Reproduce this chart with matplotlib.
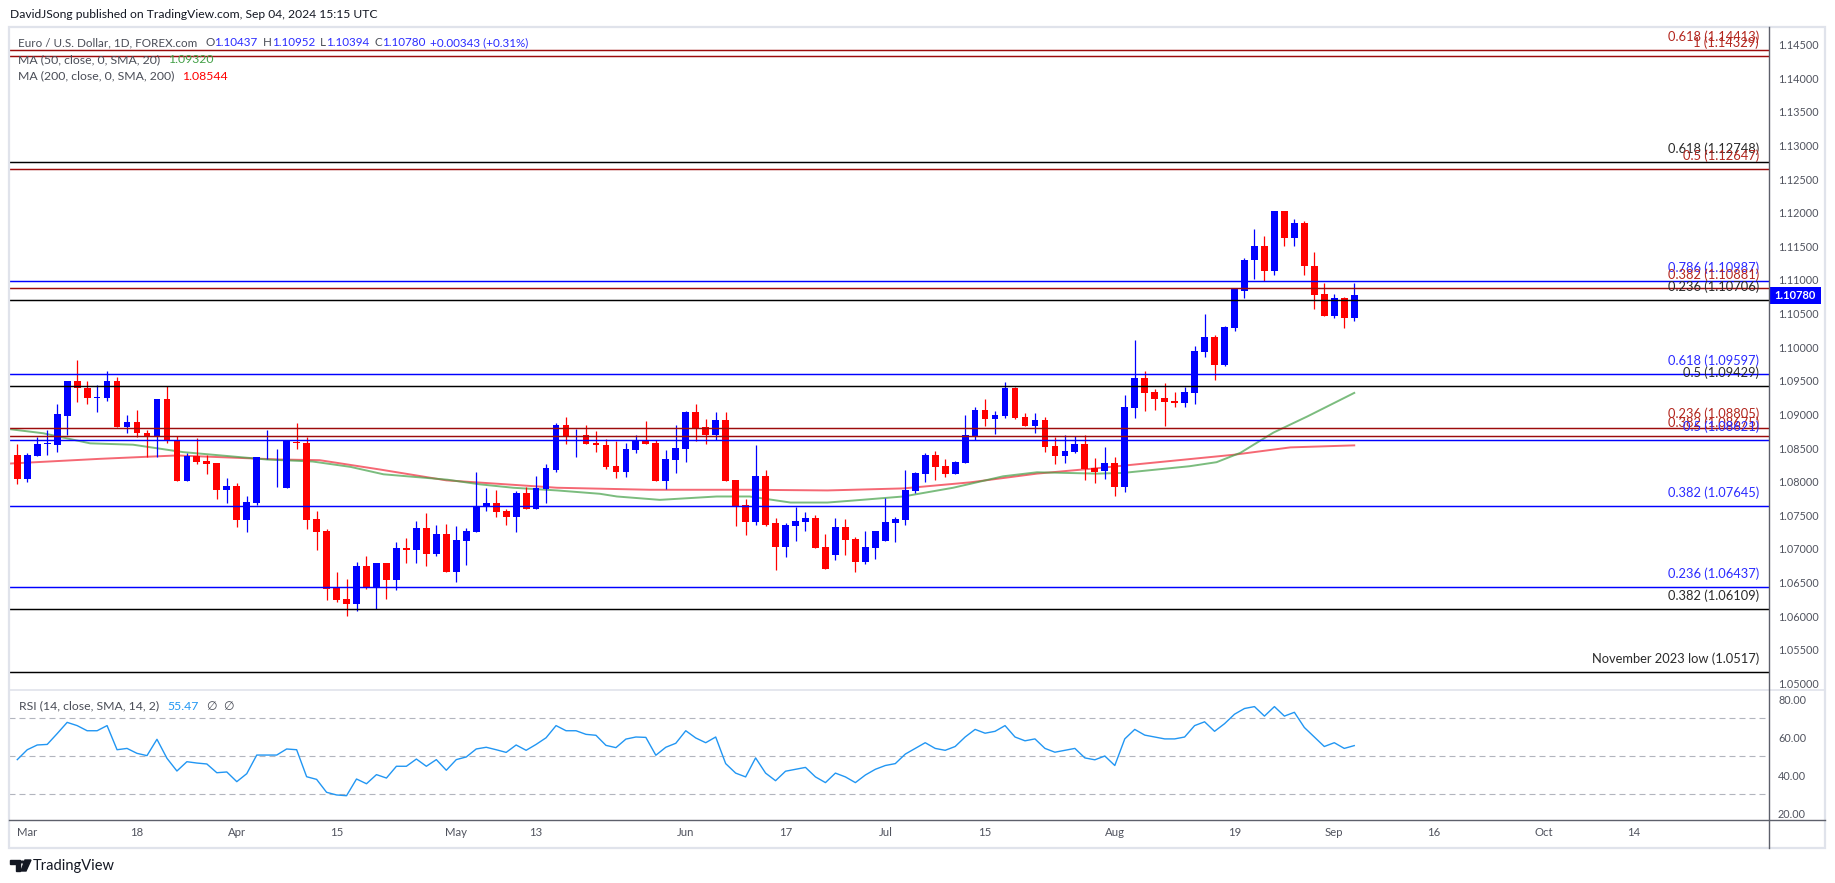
import matplotlib
matplotlib.use("Agg")
import matplotlib.pyplot as plt
from matplotlib.patches import Rectangle, Polygon, Circle
from matplotlib.lines import Line2D
import numpy as np

W, H, DPI = 1835, 883, 100

# daily candles, Feb 29 .. Sep 04 2024 (index 0..134)
opens = [1.0839, 1.0804, 1.0838, 1.0856, 1.0855, 1.0898, 1.0949, 1.0940, 1.0925, 1.0925,
         1.0949, 1.0882, 1.0889, 1.0873, 1.0866, 1.0923, 1.0861, 1.0801, 1.0838, 1.0831,
         1.0828, 1.0787, 1.0793, 1.0743, 1.0769, 1.0836, 1.0836, 1.0790, 1.0859, 1.0858,
         1.0744, 1.0726, 1.0642, 1.0625, 1.0618, 1.0674, 1.0644, 1.0679, 1.0654, 1.0702,
         1.0698, 1.0731, 1.0692, 1.0722, 1.0666, 1.0712, 1.0725, 1.0762, 1.0769, 1.0756,
         1.0747, 1.0783, 1.0759, 1.0789, 1.0818, 1.0885, 1.0867, 1.0870, 1.0857, 1.0855,
         1.0823, 1.0814, 1.0847, 1.0860, 1.0857, 1.0801, 1.0832, 1.0849, 1.0904, 1.0881,
         1.0869, 1.0891, 1.0802, 1.0766, 1.0740, 1.0809, 1.0738, 1.0703, 1.0734, 1.0740,
         1.0746, 1.0703, 1.0691, 1.0733, 1.0715, 1.0680, 1.0702, 1.0712, 1.0739, 1.0743,
         1.0786, 1.0812, 1.0840, 1.0824, 1.0812, 1.0828, 1.0867, 1.0907, 1.0893, 1.0898,
         1.0939, 1.0896, 1.0883, 1.0892, 1.0853, 1.0838, 1.0844, 1.0856, 1.0821, 1.0816,
         1.0828, 1.0792, 1.0909, 1.0954, 1.0933, 1.0924, 1.0920, 1.0917, 1.0932, 1.0993,
         1.1015, 1.0973, 1.1028, 1.1084, 1.1129, 1.1151, 1.1113, 1.1202, 1.1162, 1.1185,
         1.1121, 1.1079, 1.1047, 1.1073, 1.10437]
highs = [1.0856, 1.0843, 1.0866, 1.0877, 1.0916, 1.0950, 1.0981, 1.0949, 1.0944, 1.0965,
         1.0956, 1.0899, 1.0907, 1.0877, 1.0923, 1.0943, 1.0868, 1.0843, 1.0865, 1.0840,
         1.0828, 1.0806, 1.0798, 1.0779, 1.0837, 1.0877, 1.0848, 1.0862, 1.0887, 1.0867,
         1.0757, 1.0730, 1.0665, 1.0655, 1.0680, 1.0690, 1.0679, 1.0679, 1.0711, 1.0716,
         1.0741, 1.0753, 1.0735, 1.0737, 1.0734, 1.0731, 1.0814, 1.0791, 1.0788, 1.0759,
         1.0786, 1.0792, 1.0808, 1.0827, 1.0887, 1.0896, 1.0879, 1.0885, 1.0876, 1.0864,
         1.0861, 1.0858, 1.0869, 1.0890, 1.0862, 1.0847, 1.0884, 1.0905, 1.0916, 1.0893,
         1.0903, 1.0904, 1.0802, 1.0774, 1.0854, 1.0817, 1.0746, 1.0738, 1.0762, 1.0755,
         1.0750, 1.0722, 1.0746, 1.0745, 1.0718, 1.0727, 1.0726, 1.0776, 1.0748, 1.0818,
         1.0815, 1.0843, 1.0846, 1.0834, 1.0831, 1.0899, 1.0911, 1.0923, 1.0905, 1.0948,
         1.0941, 1.0902, 1.0902, 1.0896, 1.0867, 1.0869, 1.0868, 1.0869, 1.0835, 1.0852,
         1.0837, 1.0929, 1.1010, 1.0964, 1.0938, 1.0947, 1.0933, 1.0941, 1.1001, 1.1049,
         1.1018, 1.1031, 1.1087, 1.1132, 1.1175, 1.1166, 1.1202, 1.1203, 1.1191, 1.1187,
         1.1141, 1.1096, 1.1079, 1.1074, 1.10952]
lows = [1.0796, 1.0799, 1.0838, 1.0840, 1.0844, 1.0869, 1.0919, 1.0915, 1.0903, 1.0920,
        1.0882, 1.0873, 1.0867, 1.0836, 1.0837, 1.0858, 1.0801, 1.0801, 1.0826, 1.0812,
        1.0775, 1.0769, 1.0732, 1.0725, 1.0765, 1.0834, 1.0792, 1.0790, 1.0848, 1.0729,
        1.0699, 1.0624, 1.0621, 1.0601, 1.0608, 1.0641, 1.0611, 1.0625, 1.0639, 1.0679,
        1.0679, 1.0675, 1.0690, 1.0666, 1.0651, 1.0676, 1.0725, 1.0756, 1.0748, 1.0735,
        1.0725, 1.0759, 1.0759, 1.0768, 1.0814, 1.0856, 1.0837, 1.0856, 1.0844, 1.0819,
        1.0805, 1.0807, 1.0843, 1.0856, 1.0801, 1.0789, 1.0813, 1.0829, 1.0860, 1.0856,
        1.0862, 1.0801, 1.0734, 1.0721, 1.0736, 1.0734, 1.0669, 1.0688, 1.0712, 1.0727,
        1.0702, 1.0670, 1.0684, 1.0691, 1.0666, 1.0677, 1.0685, 1.0712, 1.0711, 1.0736,
        1.0783, 1.0800, 1.0803, 1.0807, 1.0812, 1.0828, 1.0862, 1.0883, 1.0871, 1.0895,
        1.0893, 1.0883, 1.0873, 1.0844, 1.0827, 1.0828, 1.0843, 1.0803, 1.0798, 1.0804,
        1.0779, 1.0784, 1.0895, 1.0905, 1.0907, 1.0883, 1.0911, 1.0911, 1.0915, 1.0985,
        1.0951, 1.0972, 1.1024, 1.1073, 1.1101, 1.1099, 1.1107, 1.1151, 1.1151, 1.1107,
        1.1056, 1.1046, 1.1043, 1.1028, 1.10394]
closes = [1.0804, 1.0839, 1.0856, 1.0857, 1.0900, 1.0949, 1.0939, 1.0925, 1.0926, 1.0949,
          1.0882, 1.0889, 1.0872, 1.0866, 1.0923, 1.0860, 1.0801, 1.0838, 1.0830, 1.0827,
          1.0787, 1.0793, 1.0743, 1.0770, 1.0837, 1.0837, 1.0837, 1.0860, 1.0858, 1.0743,
          1.0725, 1.0640, 1.0624, 1.0618, 1.0674, 1.0643, 1.0679, 1.0654, 1.0702, 1.0698,
          1.0731, 1.0692, 1.0722, 1.0666, 1.0713, 1.0726, 1.0764, 1.0769, 1.0755, 1.0747,
          1.0783, 1.0759, 1.0790, 1.0820, 1.0885, 1.0866, 1.0868, 1.0856, 1.0854, 1.0822,
          1.0814, 1.0848, 1.0860, 1.0856, 1.0801, 1.0833, 1.0850, 1.0904, 1.0880, 1.0869,
          1.0891, 1.0801, 1.0764, 1.0740, 1.0809, 1.0736, 1.0703, 1.0735, 1.0741, 1.0746,
          1.0702, 1.0670, 1.0733, 1.0714, 1.0680, 1.0703, 1.0726, 1.0740, 1.0745, 1.0788,
          1.0813, 1.0840, 1.0822, 1.0812, 1.0830, 1.0869, 1.0907, 1.0893, 1.0899, 1.0939,
          1.0895, 1.0883, 1.0892, 1.0852, 1.0838, 1.0846, 1.0856, 1.0819, 1.0815, 1.0828,
          1.0792, 1.0911, 1.0954, 1.0932, 1.0923, 1.0918, 1.0917, 1.0933, 1.0994, 1.1015,
          1.0973, 1.1030, 1.1086, 1.1130, 1.1151, 1.1113, 1.1202, 1.1162, 1.1185, 1.1120,
          1.1077, 1.1047, 1.1073, 1.1043, 1.10780]

rsi = [48.1, 53.3, 55.8, 56.1, 61.8, 67.7, 66.0, 63.3, 63.3, 66.0,
       53.3, 54.0, 51.4, 50.2, 58.8, 48.8, 42.1, 47.0, 46.3, 45.8,
       41.2, 41.6, 36.5, 40.7, 50.5, 50.5, 50.5, 53.7, 53.3, 39.1,
       37.7, 30.9, 29.5, 29.1, 37.9, 35.4, 40.2, 38.4, 44.6, 44.6,
       48.4, 44.6, 48.1, 42.5, 48.1, 49.5, 53.7, 54.6, 53.3, 51.9,
       55.8, 53.0, 56.1, 59.6, 66.0, 63.3, 63.3, 61.4, 60.9, 55.6,
       54.4, 58.9, 60.0, 59.8, 50.4, 54.6, 56.7, 63.3, 59.5, 57.0,
       60.0, 46.0, 41.0, 39.0, 49.0, 41.0, 37.0, 42.0, 43.0, 44.0,
       39.0, 36.0, 41.0, 39.0, 36.0, 40.0, 43.0, 45.0, 46.0, 51.0,
       54.0, 57.0, 54.0, 53.0, 55.0, 60.0, 64.0, 62.0, 63.0, 66.0,
       60.0, 58.0, 59.0, 54.0, 52.0, 53.0, 54.0, 49.0, 48.0, 50.0,
       45.0, 59.0, 64.0, 61.0, 60.0, 59.0, 59.0, 60.0, 66.0, 68.0,
       63.0, 67.0, 72.0, 75.0, 76.0, 71.0, 76.0, 71.0, 73.0, 65.0,
       60.0, 55.0, 57.0, 54.0, 55.47]

ma50_idx = [-0.7, 2.6, 7.3, 11.6, 16.6, 25.0, 29.6, 33.4, 36.7, 43.1, 46.4, 49.7, 54.1,
            58.4, 60.1, 64.4, 70.1, 73.4, 77.5, 81.2, 83.8, 88.8, 93.8, 98.8, 102.2,
            108.2, 110.8, 117.5, 120.2, 122.6, 125.9, 129.3, 134.0]
ma50_val = [1.0878, 1.0872, 1.0857, 1.0855, 1.0844, 1.0833, 1.0830, 1.0822, 1.0811,
            1.0803, 1.0796, 1.0791, 1.0787, 1.0782, 1.0778, 1.0773, 1.0778, 1.0778,
            1.0769, 1.0769, 1.0772, 1.0778, 1.0791, 1.0808, 1.0814, 1.0812, 1.0813,
            1.0823, 1.0829, 1.0843, 1.0873, 1.0897, 1.0932]
ma200_idx = [-0.7, 8.3, 16.0, 26.3, 30.3, 36.4, 43.0, 54.1, 63.4, 73.4, 81.2, 88.8,
             95.5, 102.2, 108.2, 121.9, 127.6, 134.0]
ma200_val = [1.0827, 1.0834, 1.0839, 1.0833, 1.0832, 1.0818, 1.0802, 1.0791, 1.0788,
             1.0788, 1.0787, 1.0790, 1.0799, 1.0812, 1.0820, 1.0840, 1.0851, 1.0854]

RED_L, RED_T = '#9c0b0b', '#b3261e'
BLUE_L, BLUE_T = '#0000ff', '#2b2bff'
BLK_L, BLK_T = '#000000', '#2a2a2a'
fib_levels = [1.14413, 1.14329, 1.12748, 1.12647, 1.10987, 1.10881, 1.10706, 1.09597,
              1.09429, 1.08805, 1.08675, 1.08621, 1.07645, 1.06437, 1.06109, 1.0517]
fib_labels = ['0.618 (1.14413)', '1 (1.14329)', '0.618 (1.12748)', '0.5 (1.12647)',
              '0.786 (1.10987)', '0.382 (1.10881)', '0.236 (1.10706)', '0.618 (1.09597)',
              '0.5 (1.09429)', '0.236 (1.08805)', '0.382 (1.08675)', '0.5 (1.08621)',
              '0.382 (1.07645)', '0.236 (1.06437)', '0.382 (1.06109)',
              'November 2023 low (1.0517)']
fib_kind = ['r', 'r', 'k', 'r', 'b', 'r', 'k', 'b', 'k', 'r', 'r', 'b', 'b', 'b', 'k', 'k']

date_ticks = [1, 12, 22, 32, 44, 52, 67, 77, 87, 97, 110, 122, 132, 142, 153, 162]
date_labels = ['Mar', '18', 'Apr', '15', 'May', '13', 'Jun', '17', 'Jul', '15',
               'Aug', '19', 'Sep', '16', 'Oct', '14']
price_ticks = [1.05 + 0.005 * k for k in range(20)]
rsi_ticks = [20, 40, 60, 80]

plt.rcParams['font.family'] = ['Lato', 'DejaVu Sans']

fig = plt.figure(figsize=(W / DPI, H / DPI), dpi=DPI)
renderer = fig.canvas.get_renderer()


def fx(px):
    return px / W


def fy(py):
    return 1 - py / H


def ftext(px, py, s, **kw):
    kw.setdefault('va', 'center')
    kw.setdefault('fontsize', 8.8)
    return fig.text(fx(px), fy(py), s, **kw)


def chain(px, py, parts, fs=8.8):
    # parts: (text, colour, gap before next piece in px)
    for s, cc, gap in parts:
        t = ftext(px, py, s, color=cc, fontsize=fs)
        px += t.get_window_extent(renderer).width + gap
    return px


def fline(x0, y0, x1, y1, **kw):
    fig.add_artist(Line2D([fx(x0), fx(x1)], [fy(y0), fy(y1)], transform=fig.transFigure, **kw))


ax = fig.add_axes([fx(9), fy(690), fx(1769) - fx(9), fy(27) - fy(690)])
rax = fig.add_axes([fx(9), fy(820), fx(1769) - fx(9), fy(690) - fy(820)])
XLIM = (-0.83, 175.57)

# candles
o = np.array(opens)
h = np.array(highs)
l = np.array(lows)
c = np.array(closes)
x = np.arange(len(c))
col = np.where(c >= o, '#0000ff', '#ff0000')
ax.plot(ma200_idx, ma200_val, color='#f23645', lw=1.4, alpha=0.75, zorder=2)
ax.plot(ma50_idx, ma50_val, color='#43a047', lw=1.4, alpha=0.7, zorder=2)
ax.vlines(x, l, h, colors=col, lw=0.9, zorder=3)
ax.bar(x, np.maximum(np.abs(c - o), 0.00014), bottom=np.minimum(o, c), width=0.68,
       color=col, linewidth=0, zorder=3)

colors = {'r': (RED_L, RED_T), 'b': (BLUE_L, BLUE_T), 'k': (BLK_L, BLK_T)}
for lv, lab, k in zip(fib_levels, fib_labels, fib_kind):
    lc, tc = colors[k]
    ax.axhline(lv, color=lc, lw=1.05, zorder=4)
    ax.annotate(lab, xy=(174.57, lv), xytext=(0, 9.6), textcoords='offset points',
                ha='right', va='center', color=tc, fontsize=9.3, zorder=5)

ax.set_xlim(*XLIM)
ax.set_ylim(1.04903, 1.14760)
ax.set_xticks([])
ax.yaxis.tick_right()
ax.set_yticks(price_ticks)
ax.set_yticklabels(['%.5f' % v for v in price_ticks])
ax.tick_params(axis='y', length=0, pad=6.5, labelsize=7.8, labelcolor='#50535e')
for s in ax.spines.values():
    s.set_visible(False)

# RSI pane
for lv in (70, 50, 30):
    rax.axhline(lv, color='#b2b5be', lw=0.8, dashes=(5.4, 3.6))
rax.plot(x, rsi, color='#2196f3', lw=1.0)
rax.set_xlim(*XLIM)
rax.set_ylim(16.32, 84.74)
rax.yaxis.tick_right()
rax.set_yticks(rsi_ticks)
rax.set_yticklabels(['%.2f' % v for v in rsi_ticks])
rax.set_xticks(date_ticks)
rax.set_xticklabels(date_labels)
rax.tick_params(axis='y', length=0, pad=6.5, labelsize=7.8, labelcolor='#50535e')
rax.tick_params(axis='x', length=0, pad=5.0, labelsize=8.2, labelcolor='#50535e')
for s in rax.spines.values():
    s.set_visible(False)

# frame and separators
fig.add_artist(Rectangle((fx(9), fy(848)), fx(1825) - fx(9), fy(27) - fy(848),
                         transform=fig.transFigure, fill=False, ec='#e0e3eb', lw=1.6))
fline(9, 690, 1825, 690, color='#e0e3eb', lw=1.2)
fline(9, 820, 1825, 820, color='#5d606b', lw=1.0)
fline(1769, 27, 1769, 848, color='#5d606b', lw=1.0)

# last price tag
fig.add_artist(Rectangle((fx(1770), fy(304)), fx(1821) - fx(1770), fy(287) - fy(304),
                         transform=fig.transFigure, color='#0000ff', lw=0))
ftext(1795.5, 295.5, '1.10780', color='white', fontsize=8, fontweight='bold', ha='center')

# header and legends
GRAY = '#4a4d57'
BL = '#2b2bff'
ftext(10, 15, 'DavidJSong published on TradingView.com, Sep 04, 2024 15:15 UTC',
      color='#131722', fontsize=8.7)
chain(18, 43, [('Euro / U.S. Dollar, 1D, FOREX.com', GRAY, 8),
               ('O', GRAY, 0), ('1.10437', BL, 5), ('H', GRAY, 0), ('1.10952', BL, 5),
               ('L', GRAY, 0), ('1.10394', BL, 5), ('C', GRAY, 0), ('1.10780', BL, 5),
               ('+0.00343 (+0.31%)', BL, 0)], fs=8.4)
chain(18, 59.5, [('MA (50, close, 0, SMA, 20)', GRAY, 8), ('1.09320', '#43a047', 0)])
chain(18, 76, [('MA (200, close, 0, SMA, 200)', GRAY, 8), ('1.08544', '#ff0000', 0)])
chain(19, 706, [('RSI (14, close, SMA, 14, 2)', GRAY, 8), ('55.47', '#2196f3', 8),
                ('\u2205', GRAY, 6), ('\u2205', GRAY, 0)])

# TradingView logo
logo = [Polygon([(fx(10), fy(860)), (fx(20), fy(860)), (fx(20), fy(871)), (fx(16), fy(871)),
                 (fx(16), fy(864)), (fx(10), fy(864))], closed=True),
        Polygon([(fx(25), fy(860)), (fx(31), fy(860)), (fx(26), fy(871)), (fx(21), fy(871))],
                closed=True)]
for p in logo:
    p.set_transform(fig.transFigure)
    p.set_color('#131722')
    fig.add_artist(p)
fig.add_artist(Circle((fx(22.5), fy(862)), 1.8 / W, transform=fig.transFigure, color='#131722'))
ftext(33, 866, 'TradingView', color='#131722', fontsize=10.5)

fig.savefig('out.png', dpi=DPI, facecolor='white')
